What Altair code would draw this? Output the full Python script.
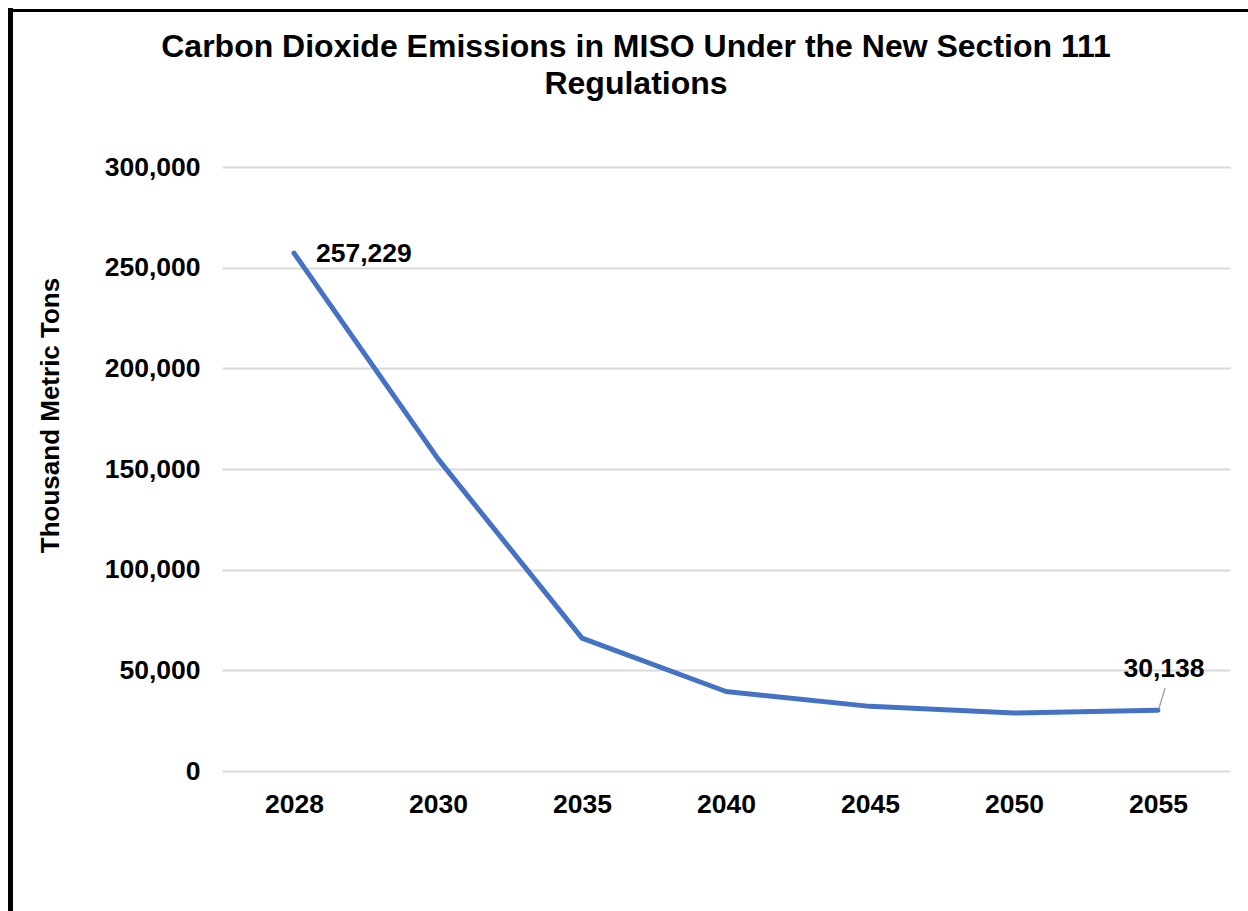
import altair as alt
import pandas as pd

years = ["2028", "2030", "2035", "2040", "2045", "2050", "2055"]
emissions = [257229, 155000, 66000, 39500, 32100, 28800, 30138]
y_ticks = [0, 50000, 100000, 150000, 200000, 250000, 300000]
title_lines = ["Carbon Dioxide Emissions in MISO Under the New Section 111", "Regulations"]
y_title = "Thousand Metric Tons"

df = pd.DataFrame({"year": years, "value": emissions})
FONT = "Liberation Sans"
LS = 26.5

x_enc = alt.X("year:O", scale=alt.Scale(type="point", padding=0.5),
              axis=alt.Axis(title=None, labelAngle=0, labelFont=FONT, labelFontSize=LS,
                            labelFontWeight="bold", labelColor="black", labelPadding=20,
                            domain=False, ticks=False, grid=False))
y_enc = alt.Y("value:Q", scale=alt.Scale(domain=[0, 300000], nice=False),
              axis=alt.Axis(title=y_title, values=y_ticks,
                            labelExpr="format(datum.value, ',')", labelFont=FONT,
                            labelFontSize=LS, labelFontWeight="bold", labelColor="black",
                            labelPadding=22, domain=False, ticks=False, grid=True,
                            gridColor="#D9D9D9", gridWidth=2,
                            titleFont=FONT, titleFontSize=26, titleFontWeight="bold",
                            titleColor="black", titleAngle=270, titleX=-172, titleY=248,
                            titleAlign="center", titleBaseline="middle"))

base = alt.Chart(df)

line = base.mark_line(color="#4472C4", strokeWidth=5, strokeCap="round",
                      strokeJoin="round").encode(x=x_enc, y=y_enc)

first_label = base.transform_filter(alt.datum.year == years[0]).mark_text(
    font=FONT, fontSize=LS, fontWeight="bold", color="black", align="left",
    baseline="middle", dx=22, dy=1).encode(
    x=x_enc, y=y_enc, text=alt.Text("value:Q", format=","))

last_label = base.transform_filter(alt.datum.year == years[-1]).mark_text(
    font=FONT, fontSize=LS, fontWeight="bold", color="black", align="center",
    baseline="middle", dx=6, dy=-41).encode(
    x=x_enc, y=y_enc, text=alt.Text("value:Q", format=","))

leader = base.transform_filter(alt.datum.year == years[-1]).mark_rule(
    color="#A6A6A6", strokeWidth=1.5, xOffset=1, yOffset=-2, x2Offset=7,
    y2Offset=-22).encode(x=x_enc, x2="year:O", y=y_enc, y2="value:Q")

frame_left = alt.Chart(pd.DataFrame({"a": [0]})).mark_rule(
    color="black", strokeWidth=5).encode(
    x=alt.value(-211.5), y=alt.value(-159), y2=alt.value(760))
frame_top = alt.Chart(pd.DataFrame({"a": [0]})).mark_rule(
    color="black", strokeWidth=3).encode(
    x=alt.value(-214), x2=alt.value(1100), y=alt.value(-156.5))

chart = alt.layer(line, leader, first_label, last_label, frame_left, frame_top).properties(
    width=1008, height=604,
    background="white",
    title=alt.TitleParams(title_lines, anchor="middle", frame="group", dx=-90, dy=120,
                          font=FONT, fontSize=32, fontWeight="bold", color="black",
                          baseline="alphabetic", lineHeight=37, offset=0),
    padding={"left": 222, "top": 167, "right": 18, "bottom": 140},
    autosize=alt.AutoSizeParams(type="none"),
).configure_view(stroke="transparent", strokeWidth=0)

chart.save("out.html", embed_options={"renderer": "svg", "actions": False})
